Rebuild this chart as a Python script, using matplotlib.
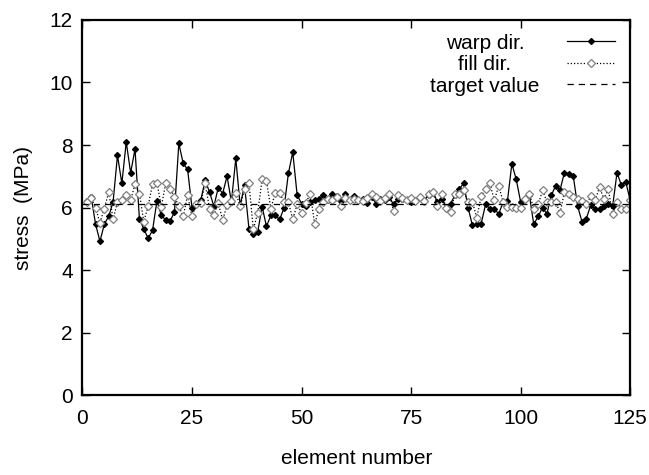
import numpy as np
import matplotlib.pyplot as plt
from matplotlib.lines import Line2D

plt.rcParams['font.family'] = ['Liberation Sans', 'DejaVu Sans']

# element numbers 1..125
elements = np.arange(1, 126)

warp = [6.21, 6.34, 5.47, 4.92, 5.47, 5.72, 6.18, 7.67, 6.77, 8.10,
        7.11, 7.87, 5.65, 5.31, 5.02, 5.27, 6.21, 5.76, 5.60, 5.56,
        5.86, 8.05, 7.41, 7.22, 6.00, 6.13, 6.23, 6.87, 6.50, 6.04,
        6.64, 6.45, 7.00, 6.18, 7.57, 6.07, 6.71, 5.33, 5.17, 5.22,
        6.03, 5.40, 5.75, 5.75, 5.62, 5.98, 7.09, 7.77, 6.40, 6.13,
        6.05, 6.18, 6.23, 6.29, 6.40, 6.23, 6.45, 6.36, 6.20, 6.45,
        6.23, 6.37, 6.23, 6.26, 6.15, 6.34, 6.13, 6.29, 6.23, 6.34,
        6.10, 6.29, 6.26, 6.23, 6.18, 6.23, 6.34, 6.23, 6.40, 6.50,
        6.18, 6.29, 6.00, 6.13, 6.39, 6.60, 6.77, 6.00, 5.43, 5.46,
        5.49, 6.10, 5.97, 5.97, 5.79, 6.18, 6.22, 7.40, 6.90, 6.18,
        6.29, 6.40, 5.46, 5.72, 6.00, 5.80, 6.39, 6.70, 6.57, 7.12,
        7.08, 7.02, 6.05, 5.55, 5.65, 6.08, 5.97, 5.97, 6.04, 6.10,
        6.05, 7.12, 6.71, 6.82, 6.23]

fill = [6.18, 6.30, 6.00, 5.51, 5.97, 6.50, 5.63, 6.18, 6.23, 6.40,
        6.23, 6.75, 6.45, 5.55, 6.05, 6.75, 6.80, 6.03, 6.77, 6.60,
        6.35, 6.04, 5.72, 6.40, 5.72, 6.10, 6.15, 6.77, 5.97, 5.76,
        6.15, 5.60, 6.07, 6.21, 6.47, 6.04, 6.60, 6.79, 5.30, 5.83,
        6.90, 6.85, 5.97, 6.47, 6.47, 6.18, 6.18, 5.62, 6.10, 5.83,
        6.15, 6.45, 5.47, 5.97, 6.18, 6.29, 6.23, 6.34, 6.04, 6.32,
        6.23, 6.29, 6.25, 6.20, 6.30, 6.45, 6.35, 6.20, 6.30, 6.45,
        5.90, 6.40, 6.30, 6.25, 6.30, 6.20, 6.35, 6.20, 6.45, 6.50,
        6.05, 6.45, 6.00, 5.86, 6.43, 6.45, 6.55, 6.18, 6.18, 5.68,
        6.36, 6.60, 6.77, 6.23, 6.70, 6.18, 6.03, 6.03, 6.00, 6.00,
        6.29, 6.45, 5.95, 6.10, 6.55, 6.18, 6.18, 6.18, 5.83, 6.50,
        6.44, 6.35, 6.29, 6.20, 6.10, 6.36, 6.23, 6.65, 6.28, 6.58,
        5.80, 6.18, 5.94, 5.97, 6.23]

target = 6.1
x_ticks = [0, 25, 50, 75, 100, 125]
y_ticks = [0, 2, 4, 6, 8, 10, 12]

fig = plt.figure(figsize=(6.49, 4.75), dpi=100)
ax = fig.add_axes([0.127, 0.168, 0.844, 0.790])

warp_style = dict(color='black', lw=0.9, marker='D', ms=3.0, mfc='black', mec='black')
fill_style = dict(color='black', lw=0.9, ls=(0, (1, 1.6)), marker='D', ms=3.6,
                  mfc='white', mec='0.5', mew=0.9)
target_style = dict(color='black', lw=0.9, ls=(0, (5, 4)))

ax.plot(elements, warp, **warp_style)
ax.plot(elements, fill, **fill_style)
ax.axhline(target, **target_style)

ax.set_xlim(0, 125)
ax.set_ylim(0, 12)
ax.set_xticks(x_ticks)
ax.set_yticks(y_ticks)
ax.tick_params(direction='in', top=True, right=True, length=6, width=1,
               labelsize=15, pad=7)
ax.tick_params(axis='x', pad=10)
for s in ax.spines.values():
    s.set_linewidth(1.6)

ax.set_xlabel('element number', fontsize=15, labelpad=15)
ax.set_ylabel('stress  (MPa)', fontsize=15, labelpad=12)

# key, drawn gnuplot style: centred text with sample on the right
labels = ['warp dir.', 'fill dir.', 'target value']
styles = [warp_style, fill_style, target_style]
rows = [0.938, 0.880, 0.823]
for lab, st, yy in zip(labels, styles, rows):
    ax.text(0.735, yy, lab, transform=ax.transAxes, ha='center', va='center',
            fontsize=15)
    st2 = dict(st)
    st2['markevery'] = [1]
    ax.add_line(Line2D([0.885, 0.929, 0.973], [yy + 0.006] * 3,
                       transform=ax.transAxes, **st2))

fig.savefig('out.png', dpi=100)
